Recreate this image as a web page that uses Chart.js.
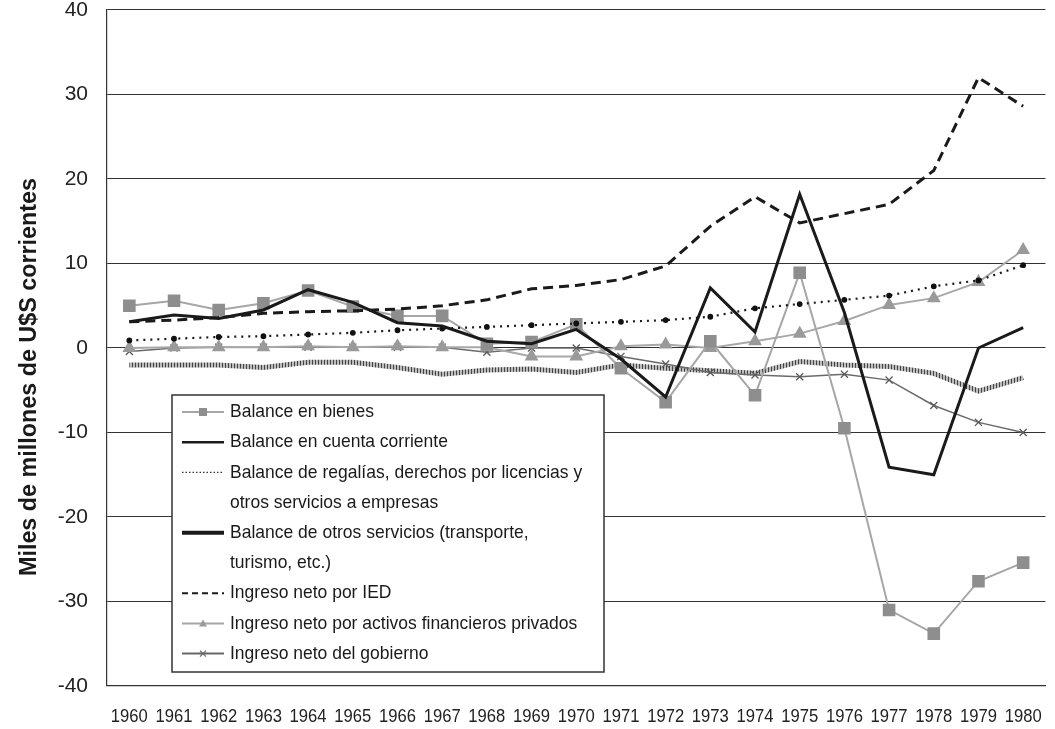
<!DOCTYPE html>
<html>
<head>
<meta charset="utf-8">
<script src="https://cdn.jsdelivr.net/npm/chart.js@4"></script>
<style>
  body { margin: 0; background: #fff; }
  #wrap { width: 1055px; height: 729px; }
</style>
</head>
<body>
<div id="wrap"><canvas id="resultChart"></canvas></div>
<script>
const years = ['1960','1961','1962','1963','1964','1965','1966','1967','1968','1969','1970',
  '1971','1972','1973','1974','1975','1976','1977','1978','1979','1980']
const yTicks = [-40, -30, -20, -10, 0, 10, 20, 30, 40]

const bienes = [5.0, 5.6, 4.5, 5.3, 6.8, 4.9, 3.8, 3.8, 0.5, 0.7, 2.8, -2.4, -6.4, 0.8, -5.6, 8.9, -9.5, -31.0, -33.8, -27.6, -25.4]
const cuenta = [3.1, 3.9, 3.5, 4.5, 6.9, 5.4, 3.0, 2.6, 0.8, 0.5, 2.2, -1.3, -5.8, 7.1, 1.9, 18.2, 4.2, -14.1, -15.0, 0.0, 2.4]
const regalias = [0.9, 1.1, 1.3, 1.4, 1.6, 1.8, 2.1, 2.3, 2.5, 2.7, 2.9, 3.1, 3.3, 3.7, 4.7, 5.2, 5.7, 6.2, 7.3, 8.0, 9.8]
const otrosServ = [-2.0, -2.0, -2.0, -2.3, -1.7, -1.7, -2.3, -3.1, -2.6, -2.5, -2.9, -2.0, -2.4, -2.7, -3.0, -1.6, -2.0, -2.2, -3.0, -5.1, -3.5]
const ied = [3.1, 3.3, 3.6, 4.1, 4.3, 4.4, 4.6, 5.0, 5.7, 7.0, 7.4, 8.1, 9.7, 14.4, 17.9, 14.8, 15.9, 17.0, 21.0, 32.0, 28.6]
const activos = [0.0, 0.1, 0.1, 0.1, 0.2, 0.1, 0.2, 0.1, 0.1, -1.0, -1.0, 0.2, 0.4, 0.0, 0.8, 1.7, 3.2, 5.1, 5.9, 7.8, 11.6]
const gobierno = [-0.4, 0.0, 0.1, 0.1, 0.1, 0.1, 0.1, 0.1, -0.5, 0.0, 0.0, -1.0, -1.9, -2.9, -3.2, -3.4, -3.1, -3.8, -6.8, -8.8, -10.0]

const legendItems = [
  { text: ['Balance en bienes'], kind: 'bienes' },
  { text: ['Balance en cuenta corriente'], kind: 'cuenta' },
  { text: ['Balance de regalías, derechos por licencias y', 'otros servicios a empresas'], kind: 'regalias' },
  { text: ['Balance de otros servicios (transporte,', 'turismo, etc.)'], kind: 'otros' },
  { text: ['Ingreso neto por IED'], kind: 'ied' },
  { text: ['Ingreso neto por activos financieros privados'], kind: 'activos' },
  { text: ['Ingreso neto del gobierno'], kind: 'gobierno' }
]

const sans = '"Liberation Sans", Arial, sans-serif'

// hatched grey stroke for "otros servicios"
const pc = document.createElement('canvas')
pc.width = 3; pc.height = 1
const pctx = pc.getContext('2d')
pctx.fillStyle = '#bcbcbc'; pctx.fillRect(0, 0, 3, 1)
pctx.fillStyle = '#444'; pctx.fillRect(0, 0, 1, 1)
const ctxMain = document.getElementById('resultChart').getContext('2d')
const stripes = ctxMain.createPattern(pc, 'repeat')

function fitText(ctx, text, x, y, scaleX) {
  ctx.save()
  ctx.translate(x, y)
  ctx.scale(scaleX, 1)
  ctx.fillText(text, 0, 0)
  ctx.restore()
}

function sample(ctx, kind, x0, x1, y) {
  ctx.save()
  ctx.beginPath(); ctx.moveTo(x0, y); ctx.lineTo(x1, y)
  const mid = (x0 + x1) / 2
  if (kind === 'bienes') { ctx.strokeStyle = '#a6a6a6'; ctx.lineWidth = 2; ctx.stroke(); ctx.fillStyle = '#8e8e8e'; ctx.fillRect(mid - 4, y - 4, 8, 8) }
  if (kind === 'cuenta') { ctx.strokeStyle = '#1a1a1a'; ctx.lineWidth = 2.5; ctx.stroke() }
  if (kind === 'regalias') { ctx.strokeStyle = '#333'; ctx.lineWidth = 1.2; ctx.setLineDash([1.5, 2]); ctx.stroke() }
  if (kind === 'otros') { ctx.strokeStyle = '#1a1a1a'; ctx.lineWidth = 4; ctx.stroke() }
  if (kind === 'ied') { ctx.strokeStyle = '#1a1a1a'; ctx.lineWidth = 2; ctx.setLineDash([6, 4]); ctx.stroke() }
  if (kind === 'activos') {
    ctx.strokeStyle = '#a6a6a6'; ctx.lineWidth = 2; ctx.stroke()
    ctx.fillStyle = '#9a9a9a'; ctx.beginPath(); ctx.moveTo(mid, y - 4); ctx.lineTo(mid + 4, y + 3); ctx.lineTo(mid - 4, y + 3); ctx.closePath(); ctx.fill()
  }
  if (kind === 'gobierno') {
    ctx.strokeStyle = '#666'; ctx.lineWidth = 2; ctx.stroke()
    ctx.lineWidth = 1.2; ctx.beginPath()
    ctx.moveTo(mid - 3, y - 3); ctx.lineTo(mid + 3, y + 3); ctx.moveTo(mid - 3, y + 3); ctx.lineTo(mid + 3, y - 3); ctx.stroke()
  }
  ctx.restore()
}

const extras = {
  id: 'extras',
  afterDraw(chart) {
    const ctx = chart.ctx
    const area = chart.chartArea
    const xs = chart.scales.x

    // x labels (condensed)
    ctx.save()
    ctx.fillStyle = '#222'
    ctx.font = '19px ' + sans
    ctx.textAlign = 'center'
    ctx.textBaseline = 'middle'
    const sx = 37 / ctx.measureText('1960').width
    years.forEach((yr, i) => fitText(ctx, yr, xs.getPixelForTick(i), area.bottom + 31, sx))
    ctx.restore()

    // y axis title
    ctx.save()
    const title = 'Miles de millones de U$S corrientes'
    ctx.fillStyle = '#1a1a1a'
    ctx.font = 'bold 23px ' + sans
    ctx.textAlign = 'center'
    ctx.textBaseline = 'middle'
    const tw = ctx.measureText(title).width
    ctx.translate(30, 377)
    ctx.rotate(-Math.PI / 2)
    ctx.scale(398 / tw, 1)
    ctx.fillText(title, 0, 0)
    ctx.restore()

    // legend box
    const bx = area.left + 65, by = 395, bw = 432, bh = 277
    ctx.save()
    ctx.fillStyle = '#fff'
    ctx.fillRect(bx, by, bw, bh)
    ctx.strokeStyle = '#333'
    ctx.lineWidth = 1.5
    ctx.strokeRect(bx, by, bw, bh)
    ctx.font = '19px ' + sans
    ctx.fillStyle = '#1a1a1a'
    ctx.textBaseline = 'middle'
    ctx.textAlign = 'left'
    const lx = 144 / ctx.measureText('Balance en bienes').width
    let row = 0
    legendItems.forEach(item => {
      const y = by + 17 + row * 30.2
      sample(ctx, item.kind, bx + 10, bx + 52, y)
      item.text.forEach((t, k) => fitText(ctx, t, bx + 58, y + k * 30.2, lx))
      row += item.text.length
    })
    ctx.restore()
  }
}

const common = { tension: 0, fill: false }

new Chart(ctxMain, {
  type: 'line',
  data: {
    labels: years,
    datasets: [
      { ...common, label: 'Balance de otros servicios (transporte, turismo, etc.)', data: otrosServ,
        borderColor: stripes, borderWidth: 5, pointRadius: 0, order: 7 },
      { ...common, label: 'Ingreso neto del gobierno', data: gobierno,
        borderColor: '#6a6a6a', borderWidth: 1.5, pointStyle: 'crossRot', pointRadius: 5,
        pointBorderColor: '#5a5a5a', pointBorderWidth: 1.3, order: 6 },
      { ...common, label: 'Ingreso neto por activos financieros privados', data: activos,
        borderColor: '#a8a8a8', borderWidth: 2, pointStyle: 'triangle', pointRadius: 6,
        pointBackgroundColor: '#9a9a9a', pointBorderColor: '#9a9a9a', order: 5 },
      { ...common, label: 'Balance en bienes', data: bienes,
        borderColor: '#a6a6a6', borderWidth: 2, pointStyle: 'rect', pointRadius: 7.5,
        pointBackgroundColor: '#8e8e8e', pointBorderColor: '#8e8e8e', order: 4 },
      { ...common, label: 'Balance de regalías, derechos por licencias y otros servicios a empresas', data: regalias,
        borderColor: '#1a1a1a', borderWidth: 2.2, borderDash: [2, 5], pointRadius: 1.8,
        pointBackgroundColor: '#111', pointBorderColor: '#111', order: 3 },
      { ...common, label: 'Ingreso neto por IED', data: ied,
        borderColor: '#1a1a1a', borderWidth: 3, borderDash: [10, 6], pointRadius: 0, order: 2 },
      { ...common, label: 'Balance en cuenta corriente', data: cuenta,
        borderColor: '#1a1a1a', borderWidth: 3, pointRadius: 0, order: 1 }
    ]
  },
  options: {
    responsive: true,
    maintainAspectRatio: false,
    animation: false,
    layout: { padding: { left: 0, right: 6, top: 10, bottom: 0 } },
    plugins: { legend: { display: false }, tooltip: { enabled: false } },
    scales: {
      x: {
        offset: true,
        grid: { display: false },
        border: { display: true, color: '#333', width: 1.2 },
        ticks: { display: false },
        afterFit(scale) { scale.height = 43 }
      },
      y: {
        min: -40,
        max: 40,
        afterBuildTicks(scale) { scale.ticks = yTicks.map(v => ({ value: v })) },
        grid: { color: '#333', lineWidth: 1.1, drawTicks: false },
        border: { display: true, color: '#333', width: 1.2 },
        ticks: { padding: 19, color: '#222', font: { family: sans, size: 21 } },
        afterFit(scale) { scale.width = 107; scale.paddingTop = 0; scale.paddingBottom = 0 }
      }
    }
  },
  plugins: [extras]
})
</script>
</body>
</html>
